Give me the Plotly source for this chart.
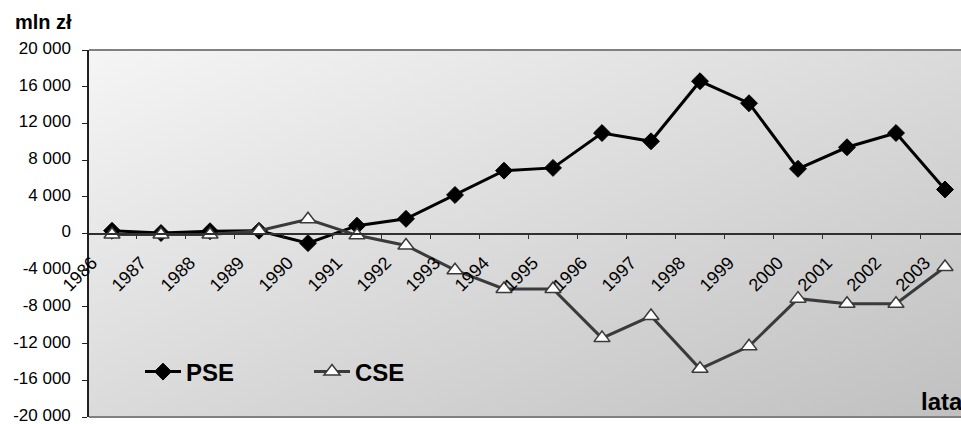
import base64
import plotly.graph_objects as go

years = ["1986", "1987", "1988", "1989", "1990", "1991", "1992", "1993", "1994",
         "1995", "1996", "1997", "1998", "1999", "2000", "2001", "2002", "2003"]
pse = [300, 50, 250, 300, -1050, 850, 1600, 4200, 6850, 7150, 10950, 10050,
       16600, 14200, 7050, 9400, 10950, 4800]
cse = [-100, -100, -100, 300, 1550, -200, -1300, -4000, -6050, -6050, -11400,
       -9000, -14750, -12300, -7100, -7650, -7650, -3650]
y_ticks = [20000, 16000, 12000, 8000, 4000, 0, -4000, -8000, -12000, -16000, -20000]
y_tick_labels = ["20 000", "16 000", "12 000", "8 000", "4 000", "0", "-4 000",
                 "-8 000", "-12 000", "-16 000", "-20 000"]
series_names = ["PSE", "CSE"]
y_title = "mln zł"
x_title = "lata"

W, H = 961, 424
L, T, B = 89, 50, 7
plot_w = W - L
plot_h = H - T - B

svg = ("<svg xmlns='http://www.w3.org/2000/svg' width='100' height='100' "
       "preserveAspectRatio='none'><defs><linearGradient id='g' x1='0' y1='0' x2='1' y2='1'>"
       "<stop offset='0' stop-color='#f5f5f5'/><stop offset='1' stop-color='#c0c0c0'/>"
       "</linearGradient></defs><rect width='100' height='100' fill='url(#g)'/></svg>")
src = "data:image/svg+xml;base64," + base64.b64encode(svg.encode()).decode()

fig = go.Figure()
fig.add_trace(go.Scatter(
    x=years, y=pse, name=series_names[0], mode="lines+markers",
    line=dict(color="#000000", width=3),
    marker=dict(symbol="diamond", size=13, color="#000000",
                line=dict(color="#000000", width=1)),
))
fig.add_trace(go.Scatter(
    x=years, y=cse, name=series_names[1], mode="lines+markers",
    line=dict(color="#3a3a3a", width=3),
    marker=dict(symbol="triangle-up", size=14, color="#ffffff",
                line=dict(color="#3a3a3a", width=1.5)),
))

# x axis range in category units: first category at 112px, step 49px
step = 49.0
first = 112.0
x0 = (L - first) / step
x1 = (W - first) / step

fig.update_layout(
    width=W, height=H, autosize=False,
    margin=dict(l=L, r=0, t=T, b=B, pad=0, autoexpand=False),
    paper_bgcolor="white",
    plot_bgcolor="rgba(0,0,0,0)",
    font=dict(family="Liberation Sans, Arial, sans-serif", size=16, color="#000000"),
    showlegend=True,
    legend=dict(
        orientation="h", x=(140 - L) / plot_w, xanchor="left",
        y=(417 - 372) / plot_h, yanchor="middle",
        bgcolor="rgba(0,0,0,0)", borderwidth=0,
        font=dict(size=24, family="Liberation Sans, Arial, sans-serif", weight="bold"),
        entrywidth=118, entrywidthmode="pixels", itemwidth=36,
    ),
    xaxis=dict(
        type="category", range=[x0, x1], anchor="free", position=0.5,
        showline=True, linecolor="#303030", linewidth=1.5,
        ticks="outside", ticklen=5, tickcolor="#303030", tickwidth=1,
        tickson="boundaries", tickangle=-45,
        tickfont=dict(size=18), showgrid=False, zeroline=False,
        ticklabelshift=-20, ticklabelstandoff=11, automargin=False,
    ),
    yaxis=dict(
        range=[-20000, 20000], tickvals=y_ticks, ticktext=y_tick_labels,
        showline=True, linecolor="#202020", linewidth=1.5,
        ticks="outside", ticklen=5, tickcolor="#202020",
        tickfont=dict(size=17), showgrid=False, zeroline=False,
        ticklabelstandoff=8, ticklabelshift=-2, ticklabeloverflow="allow",
        automargin=False,
    ),
    images=[dict(source=src, xref="paper", yref="paper", x=0, y=1,
                 sizex=1, sizey=1, sizing="stretch", layer="below",
                 xanchor="left", yanchor="top")],
    shapes=[
        dict(type="line", xref="paper", yref="paper", x0=0, x1=1, y0=1, y1=1,
             line=dict(color="#808080", width=2)),
        dict(type="line", xref="paper", yref="paper", x0=0, x1=1, y0=0, y1=0,
             line=dict(color="#808080", width=2)),
    ],
    annotations=[
        dict(text="<b>" + y_title + "</b>", xref="paper", yref="paper",
             x=(13 - L) / plot_w, y=(417 - 22) / plot_h, xanchor="left", yanchor="middle",
             showarrow=False, font=dict(size=20)),
        dict(text="<b>" + x_title + "</b>", xref="paper", yref="paper",
             x=(919 - L) / plot_w, y=(417 - 401) / plot_h, xanchor="left", yanchor="middle",
             showarrow=False, font=dict(size=24)),
    ],
)

post = ("document.documentElement.style.overflow='hidden';"
        "document.body.style.margin='0px';document.body.style.overflow='hidden';")
fig.write_html("out.html", config={"displayModeBar": False}, post_script=post)
